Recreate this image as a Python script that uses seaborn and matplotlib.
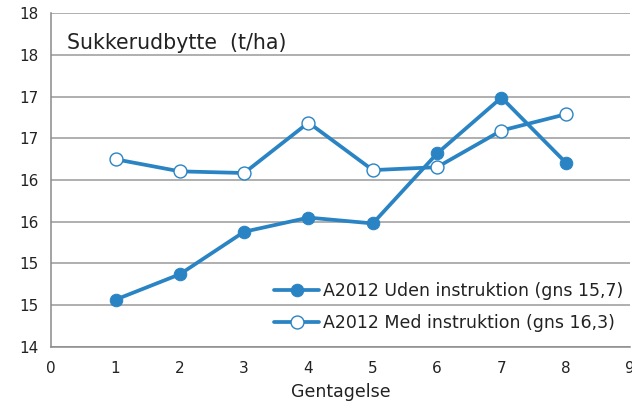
import matplotlib
matplotlib.use("Agg")
import matplotlib.pyplot as plt
import seaborn as sns
import pandas as pd
import numpy as np

# Data
gentagelse = [1, 2, 3, 4, 5, 6, 7, 8]
uden = [14.565, 14.87, 15.38, 15.55, 15.48, 16.32, 16.99, 16.21]
med = [16.25, 16.105, 16.085, 16.69, 16.12, 16.155, 16.595, 16.79]
label_uden = "A2012 Uden instruktion (gns 15,7)"
label_med = "A2012 Med instruktion (gns 16,3)"
y_ticks = [14, 14.5, 15, 15.5, 16, 16.5, 17, 17.5, 18]
y_tick_labels = ["14", "15", "15", "16", "16", "17", "17", "18", "18"]
x_ticks = [0, 1, 2, 3, 4, 5, 6, 7, 8, 9]
title = "Sukkerudbytte  (t/ha)"
xlabel = "Gentagelse"

sns.set_style("white")
plt.rcParams["font.family"] = ["DejaVu Sans"]

blue = "#2A84C4"
txt = "#222222"

fig = plt.figure(figsize=(6.32, 4.07), dpi=100)
ax = fig.add_axes([0.081, 0.148, 0.916, 0.819])

df_u = pd.DataFrame({"x": gentagelse, "y": uden})
df_m = pd.DataFrame({"x": gentagelse, "y": med})

sns.lineplot(data=df_u, x="x", y="y", ax=ax, color=blue, linewidth=2.7,
             marker="o", markersize=9, markeredgecolor=blue,
             markerfacecolor=blue, label=label_uden, zorder=3)
sns.lineplot(data=df_m, x="x", y="y", ax=ax, color=blue, linewidth=2.7,
             marker="o", markersize=9.3, markeredgecolor=blue,
             markerfacecolor="white", markeredgewidth=1.0, label=label_med, zorder=3)

ax.set_xlim(0, 9)
ax.set_ylim(14, 18)
ax.set_xticks(x_ticks)
ax.set_xticklabels([str(v) for v in x_ticks])
ax.set_yticks(y_ticks)
ax.set_yticklabels(y_tick_labels)
ax.set_xlabel(xlabel, fontsize=12.5, color=txt, labelpad=5)
ax.set_ylabel("")

ax.grid(axis="y", color="#9a9a9a", linewidth=1.1)
ax.grid(axis="x", visible=False)
ax.set_axisbelow(True)
for s in ["top", "right"]:
    ax.spines[s].set_visible(False)
for s in ["left", "bottom"]:
    ax.spines[s].set_color("#8a8a8a")
    ax.spines[s].set_linewidth(1.1)

ax.tick_params(axis="both", which="major", length=5, width=1.0, color="#8a8a8a",
               labelsize=11, labelcolor=txt, direction="out")
ax.tick_params(axis="y", pad=4)
ax.tick_params(axis="x", pad=5)

ax.text(0.028, 0.912, title, transform=ax.transAxes, fontsize=14.8, color=txt,
        ha="left", va="center")

leg = ax.legend(loc="lower right", bbox_to_anchor=(1.006, 0.012), frameon=False,
                fontsize=12.5, handlelength=2.6, handletextpad=0.2,
                labelspacing=0.8, borderaxespad=0.2)
for t in leg.get_texts():
    t.set_color(txt)

fig.savefig("out.png", dpi=100)
